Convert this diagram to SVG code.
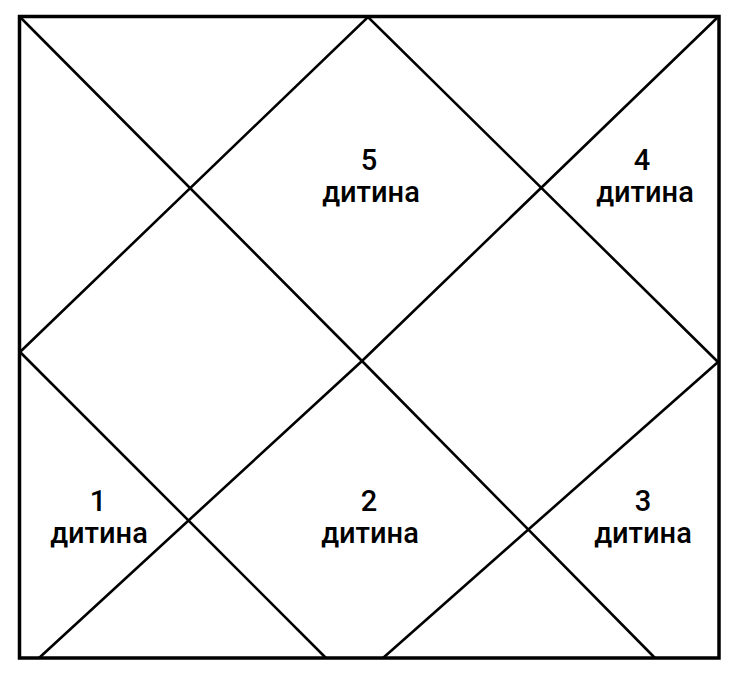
<svg xmlns="http://www.w3.org/2000/svg" width="739" height="675" viewBox="0 0 739 675">
<style>
.frame{fill:none;stroke:#000;stroke-width:3.5}
.ln{fill:none;stroke:#000;stroke-width:2.6;stroke-linejoin:miter}
.lbl{font-family:Roboto,"Liberation Sans","DejaVu Sans",sans-serif;font-weight:500;font-size:29px;fill:#000;text-anchor:middle}
</style>
<rect width="739" height="675" fill="#fff"/>
<g id="connectors">
<polyline class="ln" points="20,17 362,361 655,658"/>
<polyline class="ln" points="718,17 362,361 39,658"/>
<polyline class="ln" points="20,352 368,17 718,362"/>
<line class="ln" x1="20" y1="352" x2="326" y2="658"/>
<line class="ln" x1="718" y1="362" x2="383" y2="658"/>
</g>
<rect id="frame" class="frame" x="19.5" y="16.5" width="699.5" height="641.5"/>
<g id="node5"><text class="lbl" x="369" y="170">5</text><text class="lbl" x="371" y="202">дитина</text></g>
<g id="node4"><text class="lbl" x="642" y="170">4</text><text class="lbl" x="645" y="202">дитина</text></g>
<g id="node1"><text class="lbl" x="98" y="511">1</text><text class="lbl" x="99" y="543">дитина</text></g>
<g id="node2"><text class="lbl" x="369" y="511">2</text><text class="lbl" x="370" y="543">дитина</text></g>
<g id="node3"><text class="lbl" x="643" y="511">3</text><text class="lbl" x="643" y="543">дитина</text></g>
</svg>
